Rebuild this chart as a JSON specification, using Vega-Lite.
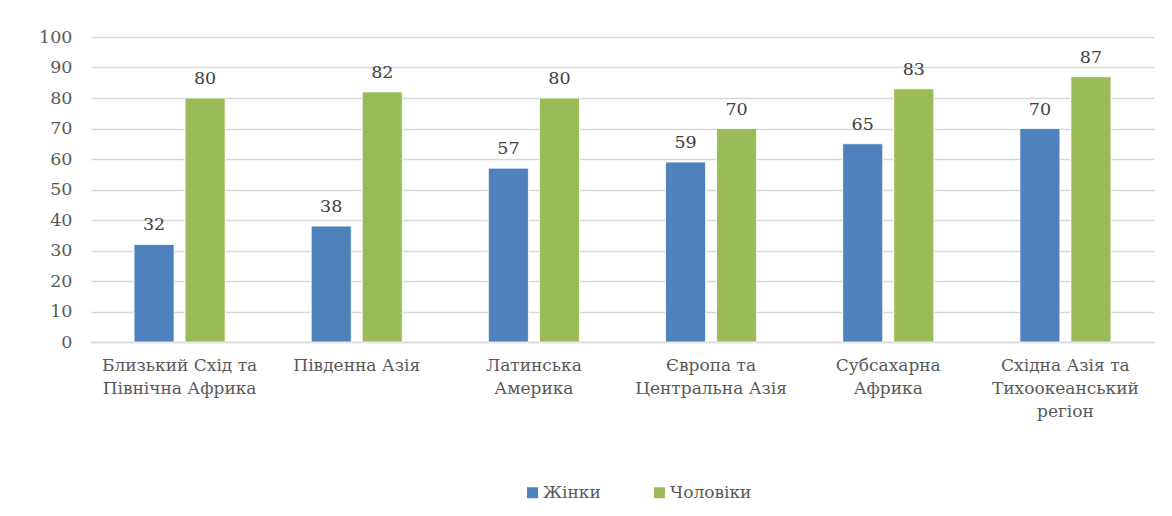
{
  "$schema": "https://vega.github.io/schema/vega-lite/v6.json",
  "width": 1063,
  "height": 305,
  "autosize": {"type": "none"},
  "padding": {"left": 91, "top": 37, "right": 18, "bottom": 174},
  "background": "white",
  "config": {
    "view": {"stroke": null},
    "font": "DejaVu Serif",
    "text": {"font": "DejaVu Serif"},
    "axis": {"labelFont": "DejaVu Serif"},
    "legend": {"labelFont": "DejaVu Serif"}
  },
  "data": {
    "values": [
      {"region": "Близький Схід та|Північна Африка", "order": 1, "sex": "Жінки", "value": 32},
      {"region": "Близький Схід та|Північна Африка", "order": 1, "sex": "Чоловіки", "value": 80},
      {"region": "Південна Азія", "order": 2, "sex": "Жінки", "value": 38},
      {"region": "Південна Азія", "order": 2, "sex": "Чоловіки", "value": 82},
      {"region": "Латинська|Америка", "order": 3, "sex": "Жінки", "value": 57},
      {"region": "Латинська|Америка", "order": 3, "sex": "Чоловіки", "value": 80},
      {"region": "Європа та|Центральна Азія", "order": 4, "sex": "Жінки", "value": 59},
      {"region": "Європа та|Центральна Азія", "order": 4, "sex": "Чоловіки", "value": 70},
      {"region": "Субсахарна|Африка", "order": 5, "sex": "Жінки", "value": 65},
      {"region": "Субсахарна|Африка", "order": 5, "sex": "Чоловіки", "value": 83},
      {"region": "Східна Азія та|Тихоокеанський|регіон", "order": 6, "sex": "Жінки", "value": 70},
      {"region": "Східна Азія та|Тихоокеанський|регіон", "order": 6, "sex": "Чоловіки", "value": 87}
    ]
  },
  "encoding": {
    "x": {
      "field": "region",
      "type": "nominal",
      "sort": {"field": "order"},
      "scale": {"paddingInner": 0, "paddingOuter": 0},
      "axis": {
        "title": null,
        "labelAngle": 0,
        "labelExpr": "split(datum.label, '|')",
        "labelFontSize": 17,
        "labelColor": "#595959",
        "labelLineHeight": 23,
        "labelPadding": 15,
        "ticks": false,
        "domainColor": "#d9d9d9",
        "domainWidth": 1.5,
        "labelLimit": 300
      }
    },
    "xOffset": {
      "field": "sex",
      "type": "nominal",
      "scale": {"paddingInner": 0.216, "paddingOuter": 0.843}
    },
    "y": {
      "field": "value",
      "type": "quantitative",
      "scale": {"domain": [0, 100], "nice": false},
      "axis": {
        "title": null,
        "values": [0, 10, 20, 30, 40, 50, 60, 70, 80, 90, 100],
        "grid": true,
        "gridColor": "#d9d9d9",
        "gridWidth": 1.5,
        "domain": false,
        "ticks": false,
        "labelFontSize": 17.5,
        "labelColor": "#595959",
        "labelPadding": 19
      }
    }
  },
  "layer": [
    {
      "mark": {"type": "bar", "stroke": "white", "strokeWidth": 0.8},
      "encoding": {
        "color": {
          "field": "sex",
          "type": "nominal",
          "scale": {"domain": ["Жінки", "Чоловіки"], "range": ["#4f81bd", "#9bbb59"]},
          "legend": {
            "title": null,
            "orient": "none",
            "direction": "horizontal",
            "legendX": 433,
            "legendY": 447,
            "symbolType": "square",
            "symbolSize": 121,
            "symbolStrokeWidth": 0,
            "labelFontSize": 17,
            "labelColor": "#595959",
            "labelOffset": 2,
            "columnPadding": 50
          }
        }
      }
    },
    {
      "mark": {
        "type": "text",
        "baseline": "alphabetic",
        "dy": -14,
        "fontSize": 17.5,
        "color": "#404040"
      },
      "encoding": {"text": {"field": "value", "type": "quantitative"}}
    }
  ]
}
